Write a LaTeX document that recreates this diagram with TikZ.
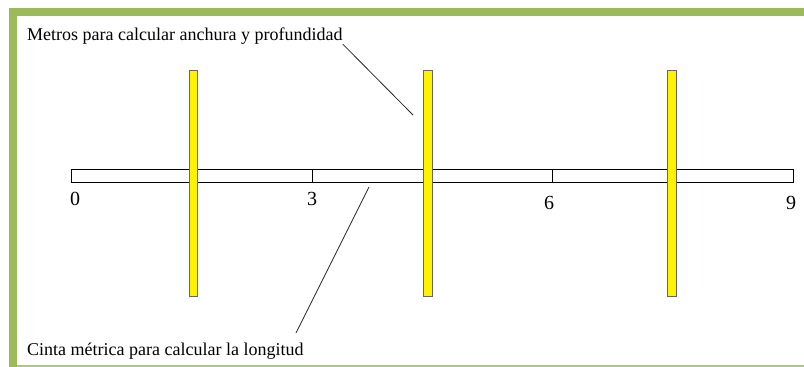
\documentclass[tikz,border=0pt]{standalone}
\usepackage{fontspec}
\setmainfont{Liberation Serif}
\definecolor{marco}{HTML}{9BBB59}
\begin{document}
\begin{tikzpicture}[x=1pt, y=-1pt, every node/.style={inner sep=0pt, font=\fontsize{18}{20}\selectfont},
        cifra/.style={font=\fontsize{20}{22}\selectfont},
        barra/.style={fill=yellow, draw=black!60, line width=1pt},
        guia/.style={draw=black!85, line width=0.8pt}]
    \useasboundingbox (0,0) rectangle (804,367);
    % marco verde
    \fill[marco] (9,8) rectangle (17,367);
    \fill[marco] (9,8) rectangle (804,16);
    \draw[marco!80, line width=1.5pt] (17,366) -- (804,366);
    % cinta
    \draw[fill=white, line width=0.9pt] (71,169) rectangle (793,182);
    \draw[line width=0.8pt] (312,169) -- (312,182);
    \draw[line width=0.8pt] (552,169) -- (552,182);
    \node[cifra] (m0) at (75,199) {0};
    \node[cifra] (m3) at (312,199) {3};
    \node[cifra] (m6) at (549,203) {6};
    \node[cifra] (m9) at (791,203) {9};
    % metros
    \draw[barra] (189,70) rectangle (197,296);
    \draw[barra] (423,70) rectangle (432,296);
    \draw[barra] (667,70) rectangle (676,296);
    \node[anchor=base west] (ancho) at (27,40) {Metros para calcular anchura y profundidad};
    \node[anchor=base west] (largo) at (27,355) {Cinta métrica para calcular la longitud};
    \coordinate (a) at (413,115);
    \coordinate (b) at (369,187);
    \coordinate (c) at (296,333);
    \draw[guia] (ancho.south east) -- (a);
    \draw[guia] (b) -- (c);
\end{tikzpicture}
\end{document}
